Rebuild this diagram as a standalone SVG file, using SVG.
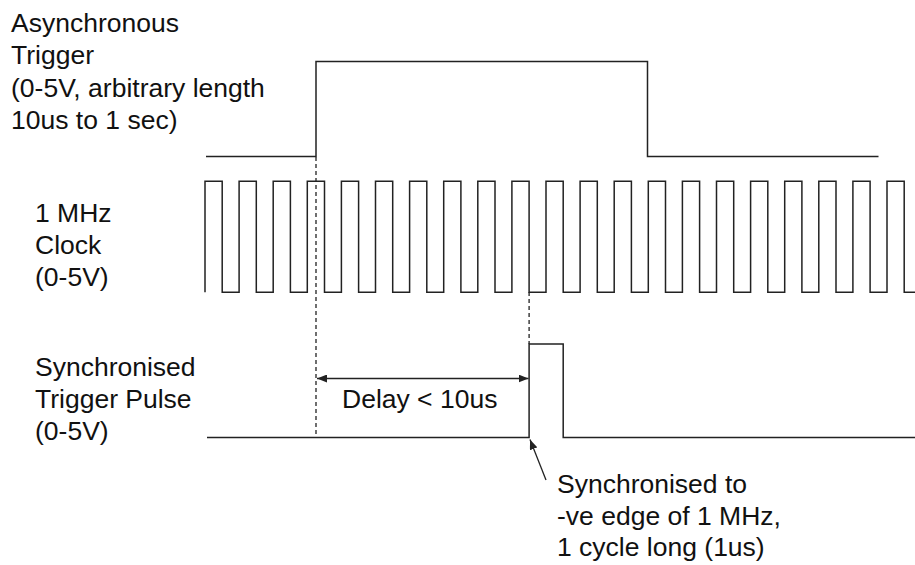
<svg xmlns="http://www.w3.org/2000/svg" width="915" height="565" viewBox="0 0 915 565">
<defs>
<style>
.w{fill:none;stroke:#222;stroke-width:1.5;stroke-linejoin:miter}
.d{fill:none;stroke:#222;stroke-width:1.3;stroke-dasharray:4 3}
.a{fill:none;stroke:#222;stroke-width:1.3}
text{font-family:"Liberation Sans",Arial,sans-serif;font-size:26.5px;fill:#111}
</style>
<marker id="ah" viewBox="0 0 10 8" refX="10" refY="4" markerWidth="10" markerHeight="8" markerUnits="userSpaceOnUse" orient="auto-start-reverse">
<path d="M0,0 L10,4 L0,8 Z" fill="#222"/>
</marker>
</defs>
<rect width="915" height="565" fill="#fff"/>
<g id="trigger">
<path class="w" d="M206 156.5 H316 V61.5 H647.5 V156.5 H878.5"/>
<text x="11" y="32">Asynchronous</text>
<text x="11" y="64">Trigger</text>
<text x="11" y="97">(0-5V, arbitrary length</text>
<text x="11" y="129">10us to 1 sec)</text>
</g>
<g id="clock">
<path class="w" d="M205 292.3 V181.3 H222.2 V292.3 H239.1 V181.3 H256.3 V292.3 H273.2 V181.3 H290.4 V292.3 H307.3 V181.3 H324.5 V292.3 H341.4 V181.3 H358.6 V292.3 H375.5 V181.3 H392.7 V292.3 H409.6 V181.3 H426.8 V292.3 H443.7 V181.3 H460.9 V292.3 H477.8 V181.3 H495 V292.3 H511.9 V181.3 H529.1 V292.3 H546 V181.3 H563.2 V292.3 H580.1 V181.3 H597.3 V292.3 H614.2 V181.3 H631.4 V292.3 H648.3 V181.3 H665.5 V292.3 H682.4 V181.3 H699.6 V292.3 H716.5 V181.3 H733.7 V292.3 H750.6 V181.3 H767.8 V292.3 H784.7 V181.3 H801.9 V292.3 H818.8 V181.3 H836 V292.3 H852.9 V181.3 H870.1 V292.3 H887 V181.3 H904.2 V292.3 H915"/>
<text x="35" y="222">1 MHz</text>
<text x="35" y="254">Clock</text>
<text x="35" y="286">(0-5V)</text>
</g>
<g id="pulse">
<path class="w" d="M207 437.5 H529.1 V344 H563.2 V437.5 H915"/>
<text x="35" y="376">Synchronised</text>
<text x="35" y="408">Trigger Pulse</text>
<text x="35" y="440">(0-5V)</text>
</g>
<g id="connectors">
<line class="d" x1="316" y1="157" x2="316" y2="437"/>
<line class="d" x1="529.1" y1="292" x2="529.1" y2="344"/>
<line class="a" x1="317" y1="378.5" x2="528.5" y2="378.5" marker-start="url(#ah)" marker-end="url(#ah)"/>
<line class="a" x1="546" y1="480" x2="530" y2="439.5" marker-end="url(#ah)"/>
</g>
<g id="labels">
<text x="342" y="408">Delay &lt; 10us</text>
<text x="557" y="493">Synchronised to</text>
<text x="557" y="525">-ve edge of 1 MHz,</text>
<text x="557" y="556">1 cycle long (1us)</text>
</g>
</svg>
